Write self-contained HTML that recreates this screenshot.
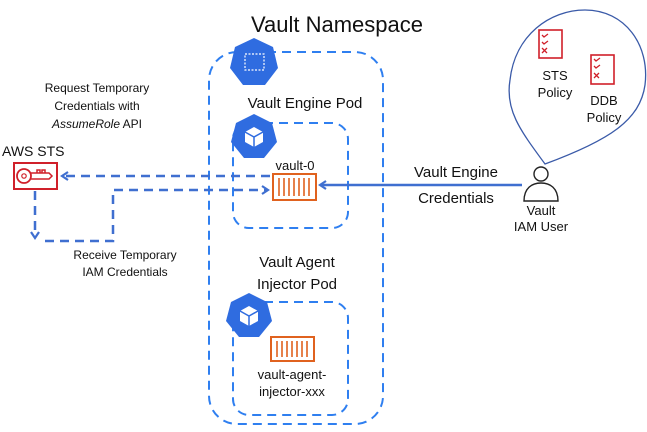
<!DOCTYPE html>
<html><head><style>
body{margin:0;background:#fff;}
svg{display:block;font-family:"Liberation Sans",sans-serif;}
</style></head><body>
<svg width="647" height="432" viewBox="0 0 647 432">
<defs>
<marker id="ah" markerWidth="10" markerHeight="10" refX="7" refY="5" orient="auto" markerUnits="userSpaceOnUse">
<path d="M1,1 L7,5 L1,9" fill="none" stroke="#3f6fd0" stroke-width="2.2"/>
</marker>
</defs>
<rect x="209" y="52" width="174" height="372" rx="28" fill="none" stroke="#2f7ff0" stroke-width="2" stroke-dasharray="9,6"/>
<rect x="233" y="123" width="115" height="105" rx="16" fill="none" stroke="#2f7ff0" stroke-width="2" stroke-dasharray="9,6"/>
<rect x="233" y="302" width="115" height="113" rx="16" fill="none" stroke="#2f7ff0" stroke-width="2" stroke-dasharray="9,6"/>
<g fill="#2f6ce0">
<polygon points="254,38 273,47 278,68 265,85 243,85 230,68 235,47"/>
<polygon points="254,114 272,123 277,142 264,158 244,158 231,142 236,123"/>
<polygon points="249,293 267,302 272,321 259,337 239,337 226,321 231,302"/>
</g>
<rect x="245" y="54" width="19" height="16" fill="none" stroke="#fff" stroke-width="1.2" stroke-dasharray="2,1.5"/>
<g fill="#fff"><polygon points="254,127 263,132 263,142 254,147 245,142 245,132"/></g>
<g fill="#fff"><polygon points="249,306 258,311 258,321 249,326 240,321 240,311"/></g>
<path d="M245,132 L254,137 L263,132 M254,137 L254,147" stroke="#2f6ce0" stroke-width="1.5" fill="none"/>
<path d="M240,311 L249,316 L258,311 M249,316 L249,326" stroke="#2f6ce0" stroke-width="1.5" fill="none"/>
<g stroke="#e0621f" fill="#fff" stroke-width="2">
<rect x="273" y="174" width="43" height="26"/>
<rect x="271" y="337" width="43" height="24"/>
</g>
<g stroke="#e0621f" stroke-width="1.6">
<path d="M279,178v18M284,178v18M289,178v18M294,178v18M299,178v18M304,178v18M309,178v18"/>
<path d="M277,341v16M282,341v16M287,341v16M292,341v16M297,341v16M302,341v16M307,341v16"/>
</g>
<text x="337" y="32" font-size="22" text-anchor="middle" fill="#111">Vault Namespace</text>
<text x="305" y="108" font-size="15" text-anchor="middle" fill="#111">Vault Engine Pod</text>
<text x="297" y="267" font-size="15" text-anchor="middle" fill="#111">Vault Agent</text>
<text x="297" y="289" font-size="15" text-anchor="middle" fill="#111">Injector Pod</text>
<text x="295" y="170" font-size="13" text-anchor="middle" fill="#111">vault-0</text>
<text x="292" y="379" font-size="13" text-anchor="middle" fill="#111">vault-agent-</text>
<text x="292" y="396" font-size="13" text-anchor="middle" fill="#111">injector-xxx</text>
<text x="97" y="92" font-size="12" text-anchor="middle" fill="#111">Request Temporary</text>
<text x="97" y="110" font-size="12" text-anchor="middle" fill="#111">Credentials with</text>
<text x="97" y="128" font-size="12" text-anchor="middle" fill="#111"><tspan font-style="italic">AssumeRole</tspan> API</text>
<text x="125" y="259" font-size="12" text-anchor="middle" fill="#111">Receive Temporary</text>
<text x="125" y="276" font-size="12" text-anchor="middle" fill="#111">IAM Credentials</text>
<text x="2" y="156" font-size="14" fill="#111">AWS STS</text>
<text x="456" y="177" font-size="15" text-anchor="middle" fill="#111">Vault Engine</text>
<text x="456" y="203" font-size="15" text-anchor="middle" fill="#111">Credentials</text>
<text x="541" y="215" font-size="13" text-anchor="middle" fill="#111">Vault</text>
<text x="541" y="231" font-size="13" text-anchor="middle" fill="#111">IAM User</text>
<rect x="14" y="163" width="43" height="26" fill="#fff" stroke="#d0202a" stroke-width="2"/>
<circle cx="24" cy="176" r="7" fill="none" stroke="#d0202a" stroke-width="1.8"/>
<circle cx="24" cy="176" r="2.2" fill="none" stroke="#d0202a" stroke-width="1.2"/>
<path d="M31,173 h18 l3,3 l-3,3 h-18 M37,173 v-3 h3 v3 M42,173 v-3 h3 v3" fill="none" stroke="#d0202a" stroke-width="1.5"/>
<g stroke="#3f6fd0" stroke-width="2.5" fill="none" stroke-dasharray="9,6">
<path d="M270,176 H62" marker-end="url(#ah)"/>
<path d="M35,191 V238" marker-end="url(#ah)"/>
<path d="M45,241 H113 V190 H268" marker-end="url(#ah)"/>
</g>
<path d="M522,185 H320" stroke="#3f6fd0" stroke-width="2.5" fill="none" marker-end="url(#ah)"/>
<path d="M545,164 C520,130 505,110 510,80 C515,35 550,10 585,10 C625,10 650,45 645,85 C640,120 610,140 545,164 Z" fill="none" stroke="#3a5aa8" stroke-width="1.3"/>
<g stroke="#d0202a" stroke-width="1.6" fill="#fff">
<rect x="539" y="30" width="23" height="28"/>
<rect x="591" y="55" width="23" height="29"/>
</g>
<g stroke="#d0202a" stroke-width="1.3" fill="none">
<path d="M542,35 l2,2 l4,-3 M542,42 l2,2 l4,-3 M542,48 l5,5 M547,48 l-5,5"/>
<path d="M594,59 l2,2 l4,-3 M594,66 l2,2 l4,-3 M594,73 l5,5 M599,73 l-5,5"/>
</g>
<text x="555" y="80" font-size="13" text-anchor="middle" fill="#111">STS</text>
<text x="555" y="97" font-size="13" text-anchor="middle" fill="#111">Policy</text>
<text x="604" y="105" font-size="13" text-anchor="middle" fill="#111">DDB</text>
<text x="604" y="122" font-size="13" text-anchor="middle" fill="#111">Policy</text>
<circle cx="541" cy="174" r="7" fill="#fff" stroke="#222" stroke-width="1.4"/>
<path d="M524,201 C524,188 532,183 541,183 C550,183 558,188 558,201 Z" fill="#fff" stroke="#222" stroke-width="1.4"/>
</svg>
</body></html>
